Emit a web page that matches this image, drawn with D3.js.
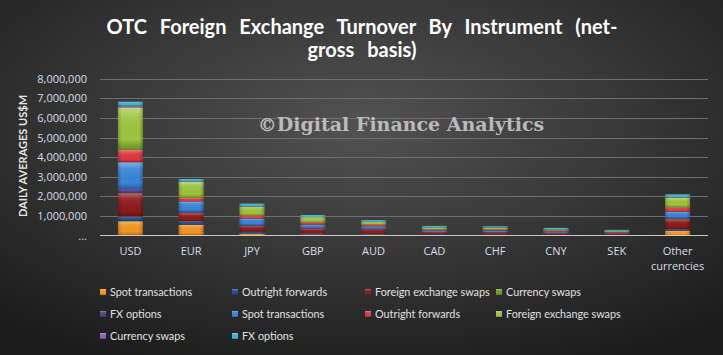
<!DOCTYPE html>
<html><head><meta charset="utf-8">
<script src="https://cdn.jsdelivr.net/npm/d3@7"></script>
<style>html,body{margin:0;padding:0;background:#222;}svg{display:block;}</style>
</head><body>
<script>
// ---- data (US$M, daily averages) ----
const categories = ["USD","EUR","JPY","GBP","AUD","CAD","CHF","CNY","SEK","Other currencies"];
const spot1      = [730000, 550000, 100000, 50000, 50000, 30000, 30000, 20000, 20000, 250000];
const outright1  = [240000, 180000, 100000, 50000, 40000, 30000, 20000, 20000, 20000, 80000];
const fxswaps1   = [1190000, 410000, 270000, 240000, 220000, 100000, 100000, 80000, 60000, 500000];
const curswaps1  = [20000, 10000, 10000, 5000, 5000, 3000, 3000, 2000, 2000, 10000];
const options1   = [170000, 50000, 50000, 40000, 30000, 20000, 20000, 20000, 10000, 50000];
const spot2      = [1390000, 540000, 340000, 170000, 120000, 70000, 80000, 60000, 40000, 330000];
const outright2  = [630000, 170000, 150000, 120000, 100000, 60000, 60000, 50000, 40000, 220000];
const fxswaps2   = [2170000, 820000, 460000, 260000, 120000, 100000, 80000, 60000, 40000, 500000];
const curswaps2  = [80000, 20000, 20000, 10000, 10000, 5000, 5000, 5000, 3000, 20000];
const options2   = [200000, 120000, 120000, 100000, 80000, 70000, 60000, 70000, 50000, 130000];
const seriesNames = ["Spot transactions","Outright forwards","Foreign exchange swaps","Currency swaps","FX options",
                     "Spot transactions","Outright forwards","Foreign exchange swaps","Currency swaps","FX options"];
const seriesValues = [spot1,outright1,fxswaps1,curswaps1,options1,spot2,outright2,fxswaps2,curswaps2,options2];
const seriesColors = ["#f39422","#1f4f8f","#8e1b1b","#6f9a2c","#5a3f8a","#3b84d8","#dc3a3e","#9cc43f","#8e5fc0","#3fb6cf"];
const yTicks = [0,1000000,2000000,3000000,4000000,5000000,6000000,7000000,8000000];

const W = 723, H = 355;
const svg = d3.select("body").append("svg").attr("width", W).attr("height", H);
const defs = svg.append("defs");
const bg = defs.append("radialGradient").attr("id","bg").attr("cx","50%").attr("cy","35%").attr("r","75%");
bg.append("stop").attr("offset","0%").attr("stop-color","#525252");
bg.append("stop").attr("offset","100%").attr("stop-color","#1b1b1b");
const bev = defs.append("linearGradient").attr("id","bev").attr("x1",0).attr("y1",0).attr("x2",0).attr("y2",1);
bev.append("stop").attr("offset","0%").attr("stop-color","#fff").attr("stop-opacity",0.35);
bev.append("stop").attr("offset","25%").attr("stop-color","#fff").attr("stop-opacity",0.08);
bev.append("stop").attr("offset","75%").attr("stop-color","#000").attr("stop-opacity",0.0);
bev.append("stop").attr("offset","100%").attr("stop-color","#000").attr("stop-opacity",0.3);
const bevH = defs.append("linearGradient").attr("id","bevh").attr("x1",0).attr("y1",0).attr("x2",1).attr("y2",0);
bevH.append("stop").attr("offset","0%").attr("stop-color","#000").attr("stop-opacity",0.2);
bevH.append("stop").attr("offset","15%").attr("stop-color","#000").attr("stop-opacity",0);
bevH.append("stop").attr("offset","85%").attr("stop-color","#000").attr("stop-opacity",0);
bevH.append("stop").attr("offset","100%").attr("stop-color","#000").attr("stop-opacity",0.25);

svg.append("rect").attr("width",W).attr("height",H).attr("fill","url(#bg)");

// title
const title = svg.append("text").attr("text-anchor","middle").attr("fill","#ffffff")
  .style("font-family","Lato, 'Open Sans', sans-serif").style("font-weight","bold").style("font-size","20px")
  .style("word-spacing","8px");
title.append("tspan").attr("x",362).attr("y",34).text("OTC Foreign Exchange Turnover By Instrument (net-");
title.append("tspan").attr("x",362).attr("y",57).text("gross basis)");

const x = d3.scaleBand().domain(categories).range([100,708]).paddingInner(0.59).paddingOuter(0.295);
const y = d3.scaleLinear().domain([0,8000000]).range([235.5,78.7]);

// gridlines
svg.append("g").selectAll("line").data(yTicks.slice(1)).join("line")
  .attr("x1",100).attr("x2",708).attr("y1",d=>Math.round(y(d))+0.5).attr("y2",d=>Math.round(y(d))+0.5)
  .attr("stroke","#6e6e6e").attr("stroke-width",1);

// y axis labels
const yAxis = d3.axisLeft(y).tickValues(yTicks).tickSize(0).tickPadding(13)
  .tickFormat(d => d === 0 ? "..." : d3.format(",")(d));
const ya = svg.append("g").attr("transform","translate(100,0)").call(yAxis);
ya.select(".domain").remove();
ya.selectAll("text").attr("fill","#d8dde6").style("font-family","'Open Sans', sans-serif").style("font-size","11px");

svg.append("text").attr("transform","translate(27,156) rotate(-90)").attr("text-anchor","middle")
  .attr("fill","#e6e6e6").style("font-family","Lato, sans-serif").style("font-weight","bold").style("font-size","11px")
  .text("DAILY AVERAGES US$M");

// stacked bars
const rows = categories.map((c,i)=>{ const o={cat:c}; seriesValues.forEach((s,k)=>o["s"+k]=s[i]); return o; });
const stack = d3.stack().keys(seriesValues.map((s,k)=>"s"+k));
const stacked = stack(rows);
const gb = svg.append("g");
stacked.forEach((layer,k)=>{
  const g = gb.append("g");
  layer.forEach(d=>{
    const yy = y(d[1]), hh = y(d[0]) - y(d[1]);
    g.append("rect").attr("x",x(d.data.cat)).attr("y",yy).attr("width",x.bandwidth()).attr("height",hh).attr("fill",seriesColors[k]);
    g.append("rect").attr("x",x(d.data.cat)).attr("y",yy).attr("width",x.bandwidth()).attr("height",hh).attr("fill","url(#bev)");
    g.append("rect").attr("x",x(d.data.cat)).attr("y",yy).attr("width",x.bandwidth()).attr("height",hh).attr("fill","url(#bevh)");
  });
});

// baseline
svg.append("line").attr("x1",100).attr("x2",708).attr("y1",235.5).attr("y2",235.5).attr("stroke","#c8c8c8").attr("stroke-width",1.2);

// x labels
const xl = svg.append("g");
categories.forEach(c=>{
  const t = xl.append("text").attr("text-anchor","middle").attr("fill","#d8dde6")
    .style("font-family","'Open Sans', sans-serif").style("font-size","11px");
  const parts = c === "Other currencies" ? ["Other","currencies"] : [c];
  parts.forEach((p,i)=> t.append("tspan").attr("x",x(c)+x.bandwidth()/2).attr("y",255+i*15).text(p));
});

// watermark
svg.append("text").attr("x",401).attr("y",131).attr("text-anchor","middle").attr("fill","#d0d0d0").attr("fill-opacity",0.85)
  .style("font-family","'DejaVu Serif', serif").style("font-weight","bold").style("font-size","19px")
  .text("©Digital Finance Analytics");

// legend
const legCols = [103,235,368,499], legRows = [292,314,336];
const lg = svg.append("g");
seriesNames.forEach((n,k)=>{
  const cx = legCols[k%4], cy = legRows[Math.floor(k/4)];
  lg.append("rect").attr("x",cx-3).attr("y",cy-3).attr("width",6).attr("height",6).attr("fill",seriesColors[k]);
  lg.append("rect").attr("x",cx-3).attr("y",cy-3).attr("width",6).attr("height",6).attr("fill","url(#bev)");
  lg.append("text").attr("x",cx+7).attr("y",cy+4).attr("fill","#e0e0e0")
    .style("font-family","Lato, sans-serif").style("font-size","10.8px").text(n);
});
</script>
</body></html>
